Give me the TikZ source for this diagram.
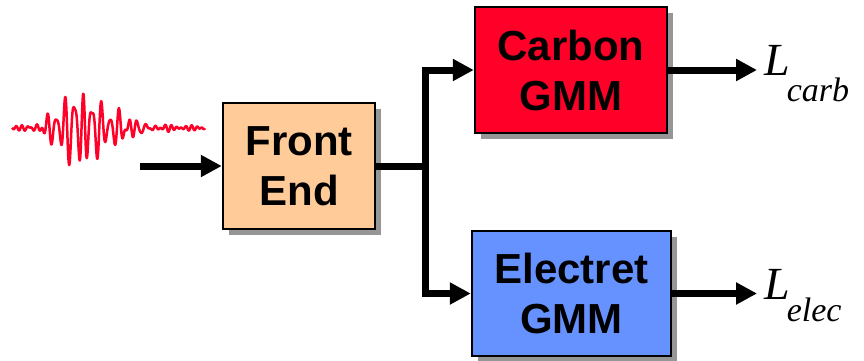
\documentclass[tikz,border=0pt]{standalone}
\usepackage{fontspec}
\setmainfont{Liberation Sans}
\newfontfamily\lserif{Liberation Serif}
\usetikzlibrary{arrows.meta,shadows}
\definecolor{feorange}{RGB}{255,204,153}
\definecolor{carbred}{RGB}{255,0,40}
\definecolor{elecblue}{RGB}{102,146,255}
\definecolor{shgray}{RGB}{150,150,150}
\definecolor{wavered}{RGB}{255,0,40}
\begin{document}
\begin{tikzpicture}[x=1pt,y=-1pt,
  blockbox/.style={draw=black,line width=2.5pt,inner sep=0pt,align=center,
    font=\bfseries\fontsize{42}{50}\selectfont,
    drop shadow={shadow xshift=6pt,shadow yshift=-6pt,fill=shgray,opacity=1}},
  arr/.style={line width=7pt,-{Triangle[length=21pt,width=21pt]},line join=miter},
  lbl/.style={anchor=base west,inner sep=0pt,font=\lserif\itshape\fontsize{46}{46}\selectfont}]
\useasboundingbox (0,0) rectangle (864,360);

% waveform
\draw[wavered,line width=2.5pt,line join=round]
  plot[domain=1.2:20.5,samples=700]
  ({10*\x},{128-(exp(0-min(((\x-7.3)/(\x<7.3?2.3:5))^2,9))*(27*sin(400*\x)+12*sin(610*\x+50)+6*sin(250*\x))+1.5*sin(700*\x)+1.2*sin(530*\x))});

\node[blockbox,fill=feorange,minimum width=152pt,minimum height=126pt] (fe) at (299,166) {Front\\End};
\node[blockbox,fill=carbred,minimum width=192pt,minimum height=126pt] (carb) at (571,70) {Carbon\\GMM};
\node[blockbox,fill=elecblue,minimum width=199pt,minimum height=125pt] (elec) at (571.5,293.5) {Electret\\GMM};

\coordinate (in) at (140,166);
\coordinate (br) at (425,166);
\coordinate (oc) at (757,70);
\coordinate (oe) at (757,293.5);

\draw[arr] (in) -- (fe.west);
\draw[arr] (fe.east) -- (br) |- (carb.west);
\draw[arr] (br) |- (elec.west);
\draw[arr] (carb.east) -- (oc);
\draw[arr] (elec.east) -- (oe);

\node[lbl] (lc) at (764,75) {L\kern-3pt\raisebox{-26pt}{\fontsize{34}{34}\selectfont carb}};
\node[lbl] (le) at (764,299) {L\kern-3pt\raisebox{-22pt}{\fontsize{34}{34}\selectfont elec}};
\end{tikzpicture}
\end{document}
